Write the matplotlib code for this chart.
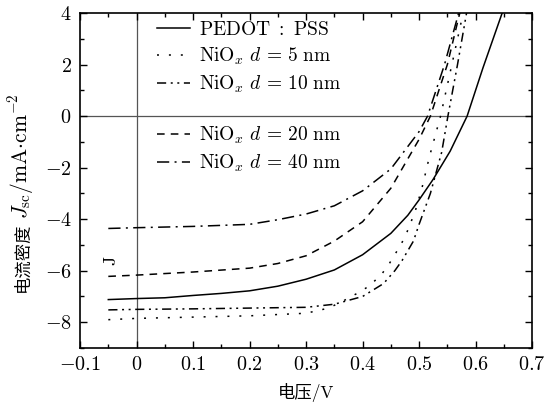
import numpy as np
import matplotlib
matplotlib.use('Agg')
import matplotlib.pyplot as plt
from matplotlib.ticker import MultipleLocator

plt.rcParams['font.family'] = ['cmr10', 'Noto Sans CJK SC']
plt.rcParams['mathtext.fontset'] = 'cm'
plt.rcParams['axes.formatter.use_mathtext'] = True

# J-V curves
v_pedot = [-0.05, 0, 0.05, 0.1, 0.15, 0.2, 0.25, 0.3, 0.35, 0.4, 0.45, 0.48, 0.5, 0.525, 0.555, 0.585, 0.613, 0.647, 0.66]
j_pedot = [-7.12, -7.08, -7.05, -6.96, -6.88, -6.78, -6.6, -6.33, -5.97, -5.38, -4.55, -3.85, -3.25, -2.45, -1.36, 0, 1.87, 4.0, 4.6]

v_5 = [-0.05, 0, 0.1, 0.2, 0.3, 0.34, 0.366, 0.392, 0.412, 0.434, 0.448, 0.463, 0.475, 0.484, 0.493, 0.505, 0.518, 0.528, 0.538, 0.558, 0.578, 0.585]
j_5 = [-7.9, -7.85, -7.8, -7.75, -7.65, -7.45, -7.17, -6.86, -6.59, -6.13, -5.7, -5.16, -4.7, -4.2, -3.7, -2.8, -1.6, -0.8, 0, 2.0, 4.0, 4.6]

v_10 = [-0.05, 0, 0.1, 0.2, 0.3, 0.35, 0.4, 0.437, 0.457, 0.47, 0.49, 0.5, 0.52, 0.54, 0.551, 0.568, 0.584, 0.59]
j_10 = [-7.52, -7.5, -7.48, -7.45, -7.42, -7.3, -7.0, -6.5, -6.0, -5.6, -4.85, -4.2, -3.0, -1.4, 0, 2.0, 4.0, 4.6]

v_20 = [-0.05, 0, 0.1, 0.2, 0.25, 0.3, 0.35, 0.4, 0.45, 0.5, 0.52, 0.55, 0.572, 0.578]
j_20 = [-6.22, -6.17, -6.05, -5.9, -5.72, -5.42, -4.85, -4.1, -2.8, -0.9, 0, 2.0, 4.0, 4.6]

v_40 = [-0.05, 0, 0.1, 0.2, 0.25, 0.3, 0.35, 0.4, 0.45, 0.5, 0.515, 0.545, 0.57, 0.576]
j_40 = [-4.36, -4.33, -4.28, -4.2, -4.02, -3.8, -3.48, -2.9, -2.05, -0.6, 0, 2.0, 4.0, 4.6]

labels_top = [r'$\mathrm{PEDOT\ :\ PSS}$', r'$\mathrm{NiO}_x\ d\,=\,5\ \mathrm{nm}$', r'$\mathrm{NiO}_x\ d\,=\,10\ \mathrm{nm}$']
labels_bot = [r'$\mathrm{NiO}_x\ d\,=\,20\ \mathrm{nm}$', r'$\mathrm{NiO}_x\ d\,=\,40\ \mathrm{nm}$']

xtick_vals = [-0.1, 0, 0.1, 0.2, 0.3, 0.4, 0.5, 0.6, 0.7]
xtick_text = ['$-0.1$', '$0$', '$0.1$', '$0.2$', '$0.3$', '$0.4$', '$0.5$', '$0.6$', '$0.7$']
ytick_vals = [-8, -6, -4, -2, 0, 2, 4]
ytick_text = ['$-8$', '$-6$', '$-4$', '$-2$', '$0$', '$2$', '$4$']

fig = plt.figure(figsize=(5.56, 4.08), dpi=100)
ax = fig.add_axes([0.144, 0.147, 0.813, 0.821])

ax.axhline(0, color='#555555', lw=0.9, zorder=1)
ax.axvline(0, color='#555555', lw=0.9, zorder=1)

lw = 1.1
l1, = ax.plot(v_pedot, j_pedot, color='k', lw=lw, ls='-')
l2, = ax.plot(v_5, j_5, color='k', lw=lw, ls=(0, (1.3, 6.5)))
l3, = ax.plot(v_10, j_10, color='k', lw=lw, ls=(0, (6, 3, 1.3, 3, 1.3, 3)))
l4, = ax.plot(v_20, j_20, color='k', lw=lw, ls=(0, (5, 4)))
l5, = ax.plot(v_40, j_40, color='k', lw=lw, ls=(0, (8, 3.5, 1.3, 3.5)))

ax.text(-0.045, -5.6, r'$\mathrm{J}$', rotation=90, fontsize=13, ha='center', va='center')

ax.set_xlim(-0.1, 0.7)
ax.set_ylim(-9, 4)
ax.xaxis.set_minor_locator(MultipleLocator(0.05))
ax.yaxis.set_minor_locator(MultipleLocator(1))
ax.set_xticks(xtick_vals)
ax.set_xticklabels(xtick_text)
ax.set_yticks(ytick_vals)
ax.set_yticklabels(ytick_text)
ax.tick_params(which='both', direction='in', top=True, right=True, labelsize=14.5, width=1.0)
ax.tick_params(which='major', length=5, pad=6)
ax.tick_params(which='minor', length=3)
for s in ax.spines.values():
    s.set_linewidth(1.2)

ax.set_xlabel('电压/V', fontsize=12.5, labelpad=6)

# y label: Chinese part and math part placed on a shared baseline
xb = 0.049
yj = 1 - 222 / 408
fig.text(xb, yj, '电流密度', fontsize=12.5, family='Noto Sans CJK SC', rotation=90,
         rotation_mode='anchor', ha='right', va='baseline')
fig.text(xb, yj + 0.008, r'$J_{\rm sc}/\mathrm{mA}{\cdot}\mathrm{cm}^{-2}$', fontsize=15.5, rotation=90,
         rotation_mode='anchor', ha='left', va='baseline')

leg1 = ax.legend([l1, l2, l3], labels_top, loc='upper left', bbox_to_anchor=(0.17, 0.976),
                 frameon=False, fontsize=14, handlelength=1.7, handletextpad=0.45,
                 labelspacing=0.35, borderpad=0, borderaxespad=0)
ax.add_artist(leg1)
ax.legend([l4, l5], labels_bot, loc='upper left', bbox_to_anchor=(0.17, 0.666),
          frameon=False, fontsize=14, handlelength=1.7, handletextpad=0.45,
          labelspacing=0.35, borderpad=0, borderaxespad=0)

fig.savefig('out.png', dpi=100)
